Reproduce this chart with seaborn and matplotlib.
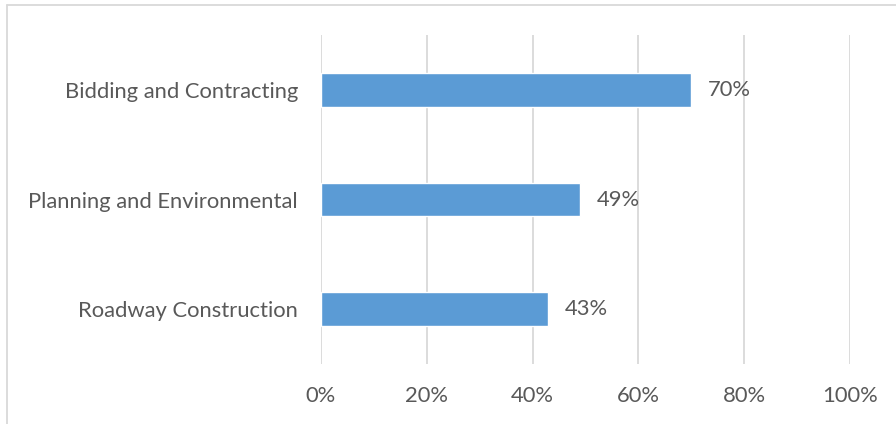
import matplotlib
matplotlib.use("Agg")
import matplotlib.pyplot as plt
import seaborn as sns
import pandas as pd
from matplotlib.lines import Line2D

categories = ["Bidding and Contracting", "Planning and Environmental", "Roadway Construction"]
shares = [70, 49, 43]
tick_values = [0, 20, 40, 60, 80, 100]
tick_labels = ["0%", "20%", "40%", "60%", "80%", "100%"]

df = pd.DataFrame({"category": categories, "share": shares})

sns.set_theme(style="white")
plt.rcParams["font.family"] = ["Lato", "DejaVu Sans"]

text_color = "#595959"
grid_color = "#D9D9D9"
bar_color = "#5B9BD5"
font_size = 15.8

fig = plt.figure(figsize=(8.96, 4.24), dpi=100)
ax = fig.add_axes([321 / 896, 1 - 364 / 424, 529 / 896, 329 / 424])

sns.barplot(data=df, x="share", y="category", orient="h", color=bar_color,
            width=0.31, saturation=1, ax=ax, zorder=3)

ax.set_xlim(0, 100)
ax.set_xticks(tick_values)
ax.set_xticklabels(tick_labels)
ax.set_xlabel("")
ax.set_ylabel("")
for s in ax.spines.values():
    s.set_visible(False)
ax.xaxis.grid(True, color=grid_color, linewidth=1.3, zorder=0)
ax.yaxis.grid(False)
ax.tick_params(axis="x", length=0, pad=15.5, labelsize=font_size, labelcolor=text_color)
ax.tick_params(axis="y", length=0, pad=16.5, labelsize=font_size, labelcolor=text_color)

for i, v in enumerate(shares):
    ax.annotate(f"{v}%", xy=(v, i), xytext=(12, 0), textcoords="offset points",
                va="center", ha="left", fontsize=font_size, color=text_color)

# chart frame
fig.add_artist(Line2D([7 / 896, 1], [1 - 5 / 424, 1 - 5 / 424], color=grid_color,
                      linewidth=1.3, transform=fig.transFigure))
fig.add_artist(Line2D([7 / 896, 7 / 896], [0, 1 - 5 / 424], color=grid_color,
                      linewidth=1.3, transform=fig.transFigure))

fig.savefig("out.png", dpi=100)
